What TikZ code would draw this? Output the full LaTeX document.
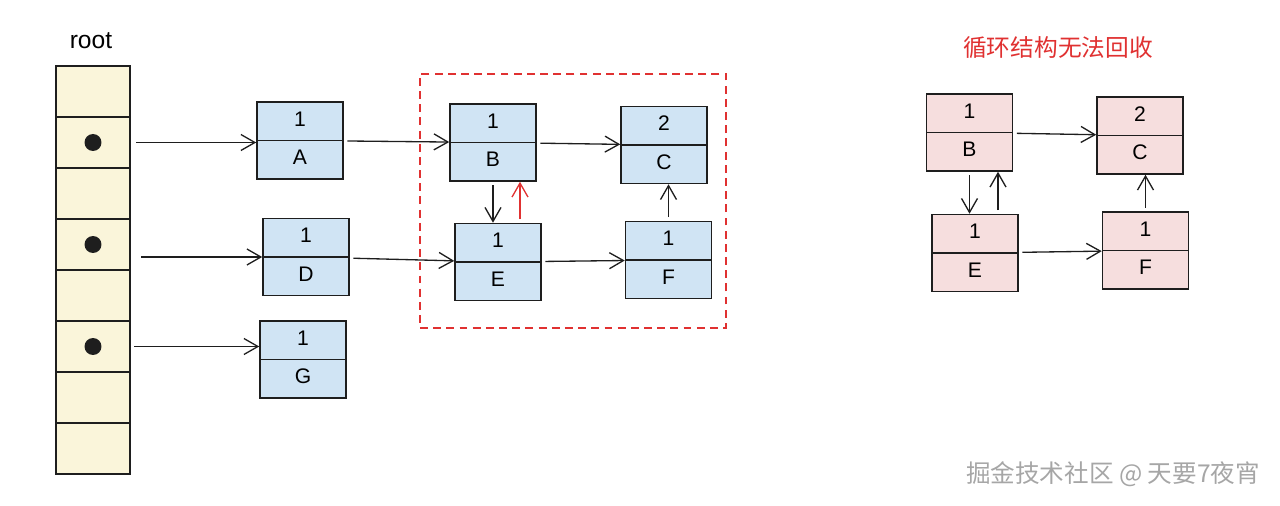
\documentclass[tikz,border=0pt]{standalone}
\usepackage{fontspec}
\setmainfont{Liberation Sans}
\newfontfamily\cjk{Noto Sans CJK SC}
\usetikzlibrary{shapes.multipart,arrows.meta}

\definecolor{sketchblue}{RGB}{208,228,244}
\definecolor{sketchpink}{RGB}{246,222,222}
\definecolor{sketchcream}{RGB}{250,245,218}
\definecolor{sketchred}{RGB}{224,49,49}
\definecolor{ink}{RGB}{30,30,30}

\tikzset{
  obj/.style={rectangle split, rectangle split parts=2, draw=ink, line width=0.9pt,
    text width=1.5cm, align=center, inner xsep=0.11cm, inner ysep=3.5pt,
    font=\fontsize{12}{14}\selectfont},
  cell/.style={rectangle, draw=ink, line width=0.9pt, fill=sketchcream,
    minimum width=1.48cm, minimum height=1.02cm, inner sep=0pt},
  dot/.style={circle, fill=ink, minimum size=0.34cm, inner sep=0pt},
  ptr/.style={-{Straight Barb[length=2.8mm,width=3.2mm]}, line width=0.75pt, draw=ink,
    shorten <=2pt},
  cyclebox/.style={draw=sketchred, line width=0.7pt, dash pattern=on 4.5pt off 3pt,
    inner sep=0pt}
}

\begin{document}
\begin{tikzpicture}[x=0.02cm,y=-0.02cm]
\useasboundingbox (0,0) rectangle (1280,506);

% root set
\node[font=\fontsize{14}{16}\selectfont] (root) at (91,41) {root};
\foreach \i in {1,...,8}
  \node[cell] (cell\i) at (93,40.5+51*\i) {};
\node[dot] (p2) at (cell2) {};
\node[dot] (p4) at (cell4) {};
\node[dot] (p6) at (cell6) {};

% heap objects
\node[obj, fill=sketchblue] (A) at (300,140.5) {\strut 1\nodepart{two}\strut A};
\node[obj, fill=sketchblue] (D) at (306,257) {\strut 1\nodepart{two}\strut D};
\node[obj, fill=sketchblue] (G) at (303,359.5) {\strut 1\nodepart{two}\strut G};
\node[obj, fill=sketchblue] (B) at (493,142.5) {\strut 1\nodepart{two}\strut B};
\node[obj, fill=sketchblue] (C) at (664,145) {\strut 2\nodepart{two}\strut C};
\node[obj, fill=sketchblue] (E) at (498,262) {\strut 1\nodepart{two}\strut E};
\node[obj, fill=sketchblue] (F) at (668.5,260) {\strut 1\nodepart{two}\strut F};
\node[cyclebox, minimum width=6.12cm, minimum height=5.08cm] (loop) at (573,201) {};

\draw[ptr, shorten <=3pt] (cell2.east) -- (cell2.east -| A.west);
\draw[ptr, shorten <=6pt] (cell4.east |- D) -- (D);
\draw[ptr] (cell6.east) -- (cell6.east -| G.west);
\draw[ptr] (A) -- (B);
\draw[ptr] (B) -- (C);
\draw[ptr] (D) -- (E);
\draw[ptr] (E) -- (F);
\draw[ptr] (B.south) -- (B.south |- E.north);
\coordinate (eb) at ([xshift=0.44cm]E.north);
\draw[ptr, draw=sketchred] (eb) -- (eb |- B.south);
\draw[ptr] (F.north) -- (F.north |- C.south);

% cycle on its own
\node[text=sketchred, font=\cjk\fontsize{13.5}{16}\selectfont] (title) at (1058,48) {循环结构无法回收};
\node[obj, fill=sketchpink] (rB) at (969.5,132.5) {\strut 1\nodepart{two}\strut B};
\node[obj, fill=sketchpink] (rC) at (1140,135.5) {\strut 2\nodepart{two}\strut C};
\node[obj, fill=sketchpink] (rE) at (975,253) {\strut 1\nodepart{two}\strut E};
\node[obj, fill=sketchpink] (rF) at (1145.5,250.5) {\strut 1\nodepart{two}\strut F};

\draw[ptr] (rB) -- (rC);
\draw[ptr] (rE) -- (rF);
\draw[ptr] (rB.south) -- (rB.south |- rE.north);
\coordinate (reb) at ([xshift=0.46cm]rE.north);
\draw[ptr] (reb) -- (reb |- rB.south);
\draw[ptr] (rF.north) -- (rF.north |- rC.south);

\node[text=black!35, font=\cjk\fontsize{14}{16}\selectfont] (mark) at (1113,474) {掘金技术社区 @ 天要7夜宵};
\end{tikzpicture}
\end{document}
